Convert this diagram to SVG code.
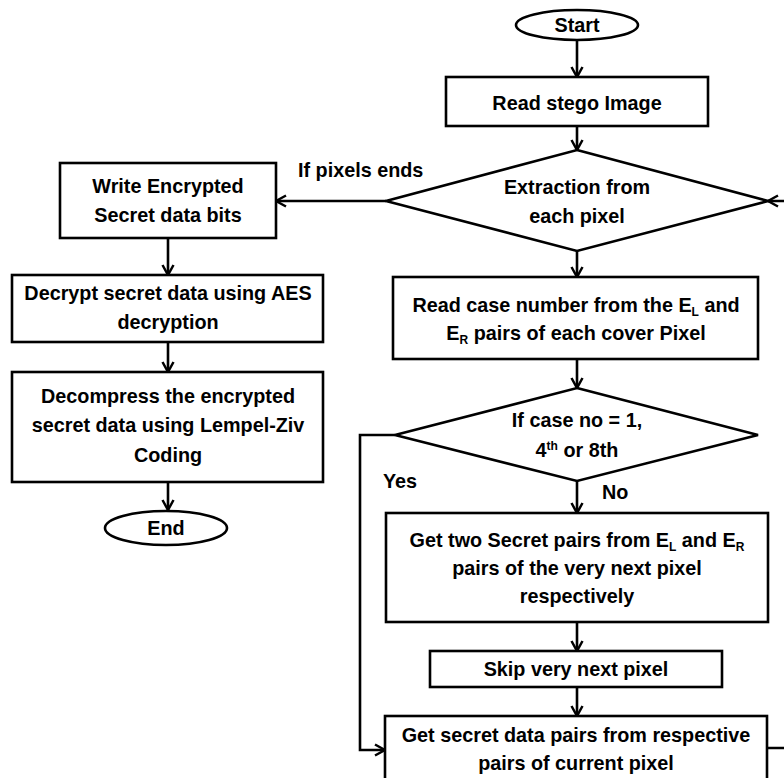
<svg xmlns="http://www.w3.org/2000/svg" width="784" height="778" viewBox="0 0 784 778">
<defs>
<marker id="arr" viewBox="-12 -7 14 14" refX="0" refY="0" markerWidth="14" markerHeight="14" markerUnits="userSpaceOnUse" orient="auto">
<path d="M-10,-5.5 L0,0 L-10,5.5" fill="none" stroke="#000" stroke-width="2.5" stroke-linejoin="miter"/>
</marker>
<style>
.box{fill:#fff;stroke:#000;stroke-width:2.6}
.ln{fill:none;stroke:#000;stroke-width:2.6;marker-end:url(#arr)}
text{font-family:"Liberation Sans",Arial,sans-serif;font-weight:bold;font-size:19.8px;fill:#000;text-anchor:middle}
.sub{font-size:12px}
.l{text-anchor:start}
</style>
</defs>
<rect width="784" height="778" fill="#fff"/>
<g id="connectors">
<path class="ln" d="M577,40 V77"/>
<path class="ln" d="M577,126 V150"/>
<path class="ln" d="M386,201 H276"/>
<path class="ln" d="M168,238 V275"/>
<path class="ln" d="M168,342 V372"/>
<path class="ln" d="M168,482 V510"/>
<path class="ln" d="M577,251 V277"/>
<path class="ln" d="M577,359 V388"/>
<path class="ln" d="M395,435 H360 V750 H385"/>
<path class="ln" d="M577,481 V513"/>
<path class="ln" d="M577,622 V651"/>
<path class="ln" d="M577,687 V716"/>
<path class="ln" d="M767,748 H800 V201 H768"/>
<text class="l" x="298" y="177">If pixels ends</text>
<text class="l" x="383" y="488">Yes</text>
<text class="l" x="602" y="499">No</text>
</g>
<g id="start">
<ellipse class="box" cx="577" cy="25" rx="61" ry="15"/>
<text x="577" y="32">Start</text>
</g>
<g id="read-stego">
<rect class="box" x="446" y="77" width="262" height="49"/>
<text x="577" y="110">Read stego Image</text>
</g>
<g id="extraction">
<polygon class="box" points="577,150 768,201 577,251 386,201"/>
<text x="577" y="194">Extraction from</text>
<text x="577" y="223">each pixel</text>
</g>
<g id="write-encrypted">
<rect class="box" x="60" y="163" width="216" height="75"/>
<text x="168" y="193">Write Encrypted</text>
<text x="168" y="222">Secret data bits</text>
</g>
<g id="decrypt">
<rect class="box" x="12" y="275" width="311" height="67"/>
<text x="168" y="300">Decrypt secret data using AES</text>
<text x="168" y="329">decryption</text>
</g>
<g id="decompress">
<rect class="box" x="12" y="372" width="311" height="110"/>
<text x="168" y="403">Decompress the encrypted</text>
<text x="168" y="432">secret data using Lempel-Ziv</text>
<text x="168" y="462">Coding</text>
</g>
<g id="end">
<ellipse class="box" cx="166" cy="528" rx="61" ry="17"/>
<text x="166" y="535">End</text>
</g>
<g id="read-case">
<rect class="box" x="393" y="277" width="365" height="82"/>
<text x="576" y="312">Read case number from the E<tspan class="sub" dy="4">L</tspan><tspan dy="-4"> and</tspan></text>
<text x="576" y="340">E<tspan class="sub" dy="4">R</tspan><tspan dy="-4"> pairs of each cover Pixel</tspan></text>
</g>
<g id="case-decision">
<polygon class="box" points="577,388 758,435 577,481 395,435"/>
<text x="577" y="427">If case no = 1,</text>
<text x="577" y="457">4<tspan class="sub" dy="-7">th</tspan><tspan dy="7"> or 8th</tspan></text>
</g>
<g id="get-two">
<rect class="box" x="386" y="513" width="382" height="109"/>
<text x="577" y="547">Get two Secret pairs from E<tspan class="sub" dy="4">L</tspan><tspan dy="-4"> and E</tspan><tspan class="sub" dy="4">R</tspan></text>
<text x="577" y="575">pairs of the very next pixel</text>
<text x="577" y="603">respectively</text>
</g>
<g id="skip">
<rect class="box" x="430" y="651" width="292" height="36"/>
<text x="576" y="676">Skip very next pixel</text>
</g>
<g id="get-secret">
<rect class="box" x="385" y="716" width="382" height="80"/>
<text x="576" y="742">Get secret data pairs from respective</text>
<text x="576" y="770">pairs of current pixel</text>
</g>
</svg>
